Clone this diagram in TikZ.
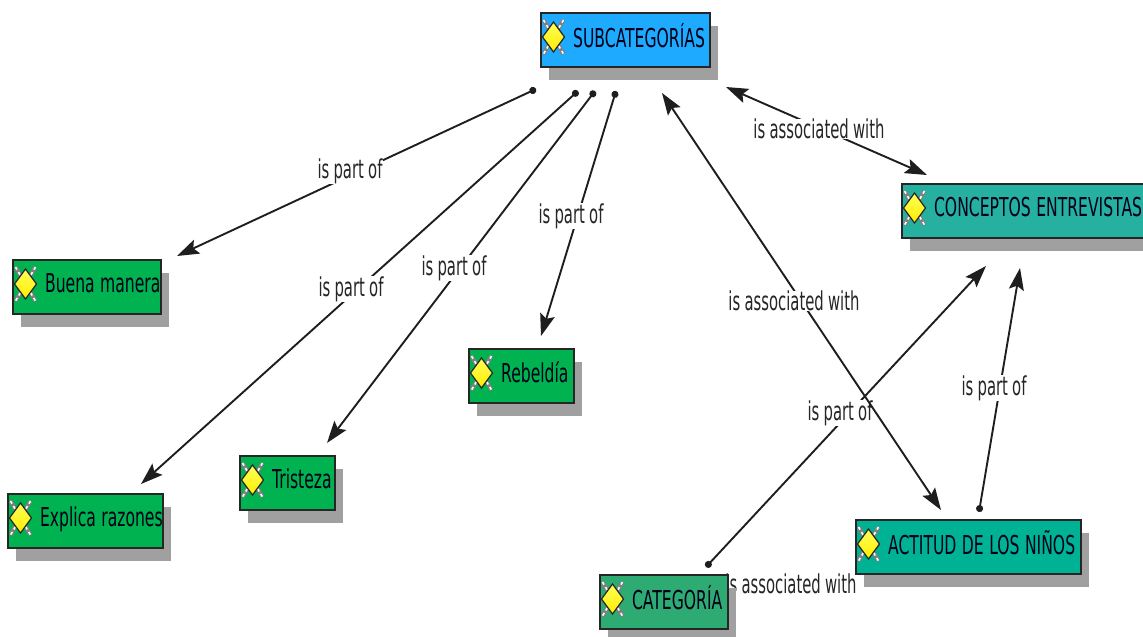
\documentclass[tikz,border=0pt]{standalone}
\usepackage{fontspec}
\setmainfont{DejaVu Sans}[FakeStretch=0.57,WordSpace=0.9]
\newfontfamily\boxfont{DejaVu Sans}[FakeStretch=0.6,WordSpace=1.1]
\usetikzlibrary{arrows.meta,shadows}
\definecolor{cblue}{RGB}{30,170,255}
\definecolor{cgreen}{RGB}{0,178,80}
\definecolor{ccat}{RGB}{46,170,115}
\definecolor{cact}{RGB}{0,178,148}
\definecolor{ccon}{RGB}{38,176,160}
\definecolor{cshadow}{RGB}{160,160,160}
\definecolor{cline}{RGB}{30,30,30}
\newcommand{\boxtext}[1]{\spaceskip=0pt\xspaceskip=0pt\hspace*{32pt}\raisebox{9pt}{#1}}
\tikzset{
  x=1pt,y=-1pt,
  cbox/.style={draw=black!85,line width=2.2pt,anchor=north west,inner sep=0pt,
    minimum height=54pt,align=left,font=\boxfont\fontsize{26}{30}\selectfont,text=black!90!blue,
    drop shadow={shadow xshift=8pt,shadow yshift=-13pt,fill=cshadow,opacity=1}},
  lab/.style={fill=white,inner sep=0pt,font=\fontsize{26}{30}\selectfont,text=black!85},
  conn/.style={draw=cline,line width=1.9pt},
  dotarrow/.style={conn,{Circle[length=7pt,width=7pt]}-{Stealth[length=22pt,width=15pt,inset=4pt]}},
  twoarrow/.style={conn,{Stealth[length=22pt,width=15pt,inset=4pt]}-{Stealth[length=22pt,width=15pt,inset=4pt]}},
  picon/.pic={
    \draw[gray,line width=4pt] (-10,-17) -- (10,17) (10,-17) -- (-10,17);
    \draw[white,line width=1.6pt,dash pattern=on 3pt off 3pt] (-10,-17) -- (10,17) (10,-17) -- (-10,17);
    \draw[black!85,line width=1.2pt,top color=white!35!yellow,bottom color=yellow!85!orange] (0,-15) -- (11,0) -- (0,15) -- (-11,0) -- cycle;
  }
}
\begin{document}
\begin{tikzpicture}
\clip (0,0) rectangle (1143,637);
% free connector ends
\coordinate (s1) at (536,89);  \coordinate (e1) at (177,256);
\coordinate (s2) at (578,91);  \coordinate (e2) at (141,484);
\coordinate (s3) at (595,91);  \coordinate (e3) at (327,443);
\coordinate (s4) at (616,91);  \coordinate (e4) at (541,336);
\coordinate (s5) at (726,87);  \coordinate (e5) at (927,175);
\coordinate (s6) at (662,93);  \coordinate (e6) at (941,510);
\coordinate (s7) at (706,567); \coordinate (e7) at (986,266);
\coordinate (s8) at (979,512); \coordinate (e8) at (1020,268);
% connectors
\draw[dotarrow] (s1) -- (e1);
\draw[dotarrow] (s2) -- (e2);
\draw[dotarrow] (s3) -- (e3);
\draw[dotarrow] (s4) -- (e4);
\draw[twoarrow] (s5) -- (e5);
\draw[dotarrow] (s7) -- (e7);
\draw[dotarrow] (s8) -- (e8);
% labels
\node[lab] (l7) at (840,413) {is part of};
\draw[twoarrow] (s6) -- (e6);
\node[lab] (l1) at (350,171) {is part of};
\node[lab] (l2) at (351,289) {is part of};
\node[lab] (l3) at (454,268) {is part of};
\node[lab] (l4) at (571,216) {is part of};
\node[lab] (l5) at (819,129) {is associated with};
\node[lab] (l6) at (794,301) {is associated with};
\node[lab] (l8) at (994,388) {is part of};
\node[lab] (l9) at (791,584) {is associated with};
% concept boxes
\node[cbox,fill=cblue,text width=169pt] (sub) at (540,12) {\boxtext{SUBCATEGORÍAS}};
\node[cbox,fill=cgreen,text width=148pt] (bue) at (12,259) {\boxtext{Buena manera}};
\node[cbox,fill=cgreen,text width=105pt] (reb) at (468,348) {\boxtext{Rebeldía}};
\node[cbox,fill=cgreen,text width=155pt] (exp) at (7,493) {\boxtext{Explica razones}};
\node[cbox,fill=cgreen,text width=95pt] (tri) at (239,455) {\boxtext{Tristeza}};
\node[cbox,fill=ccat,text width=128pt] (cat) at (599,574) {\boxtext{CATEGORÍA}};
\node[cbox,fill=cact,text width=225pt] (act) at (855,519) {\boxtext{ACTITUD DE LOS NIÑOS}};
\node[cbox,fill=ccon,text width=244pt] (con) at (901,183) {\boxtext{CONCEPTOS ENTREVISTAS}};
% icons
\foreach \n in {sub,bue,reb,exp,tri,cat,act,con}
  \pic at ([shift={(13.5,25)}]\n.north west) {picon};
\end{tikzpicture}
\end{document}
